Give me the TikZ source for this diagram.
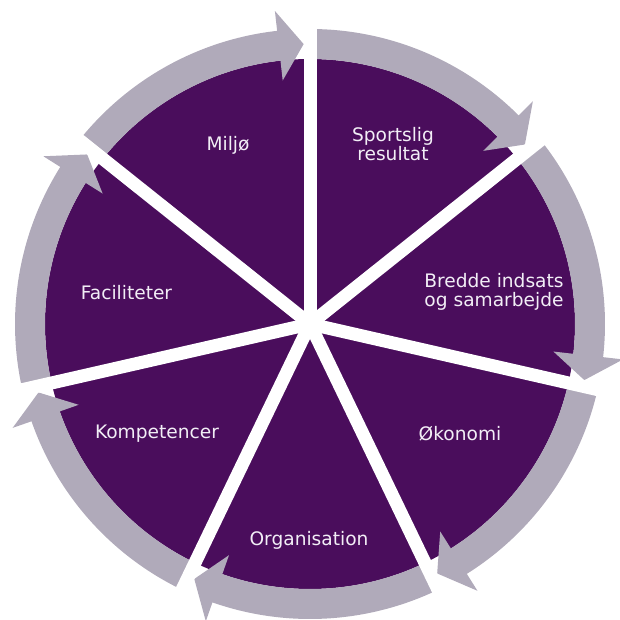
\documentclass[tikz,border=0pt]{standalone}
\usepackage{fontspec}
\setmainfont{DejaVu Sans}
\definecolor{wheelpurple}{RGB}{74,13,92}
\definecolor{wheelgrey}{RGB}{176,170,186}
\definecolor{labeltext}{RGB}{242,238,246}
\begin{document}
\begin{tikzpicture}[x=1pt,y=1pt,
  lbl/.style={text=labeltext, align=center, inner sep=0pt, font=\fontsize{18.6}{19}\selectfont},
  gapline/.style={draw=white, line width=13pt, line cap=butt},
  ringarrow/.style={fill=wheelgrey}]
\useasboundingbox (-310,-296) rectangle (310,324);
% purple disc
\fill[wheelpurple] (0,0) circle[radius=265];
% grey arrows (clockwise, head at the clockwise end)
\foreach \k in {0,...,6}{
  \pgfmathsetmacro{\A}{90-\k*360/7}
  \pgfmathsetmacro{\B}{\A-360/7}
  \pgfmathsetmacro{\H}{\B+6.4}
  \pgfmathsetmacro{\T}{\B+1.3}
  \fill[ringarrow] (\A:295) arc[start angle=\A, end angle=\H, radius=295]
    -- (\H:315) -- (\T:280) -- (\H:245) -- (\H:265)
    arc[start angle=\H, end angle=\A, radius=265] -- cycle;
}
% white gaps
\coordinate (c) at (0,0);
\foreach \k in {0,...,6}{
  \pgfmathsetmacro{\G}{90-\k*360/7}
  \coordinate (g\k) at (\G:300);
  \draw[gapline] (c) -- (g\k);
}
% labels
\node[lbl] (miljo) at (-82,179) {Miljø};
\node[lbl] (sport) at (83,180) {Sportslig\\resultat};
\node[lbl] (bredde) at (184,32) {Bredde indsats\\og samarbejde};
\node[lbl] (okonomi) at (150,-110) {Økonomi};
\node[lbl] (org) at (-1,-216) {Organisation};
\node[lbl] (komp) at (-153,-110) {Kompetencer};
\node[lbl] (facil) at (-183.5,31) {Faciliteter};
\end{tikzpicture}
\end{document}
